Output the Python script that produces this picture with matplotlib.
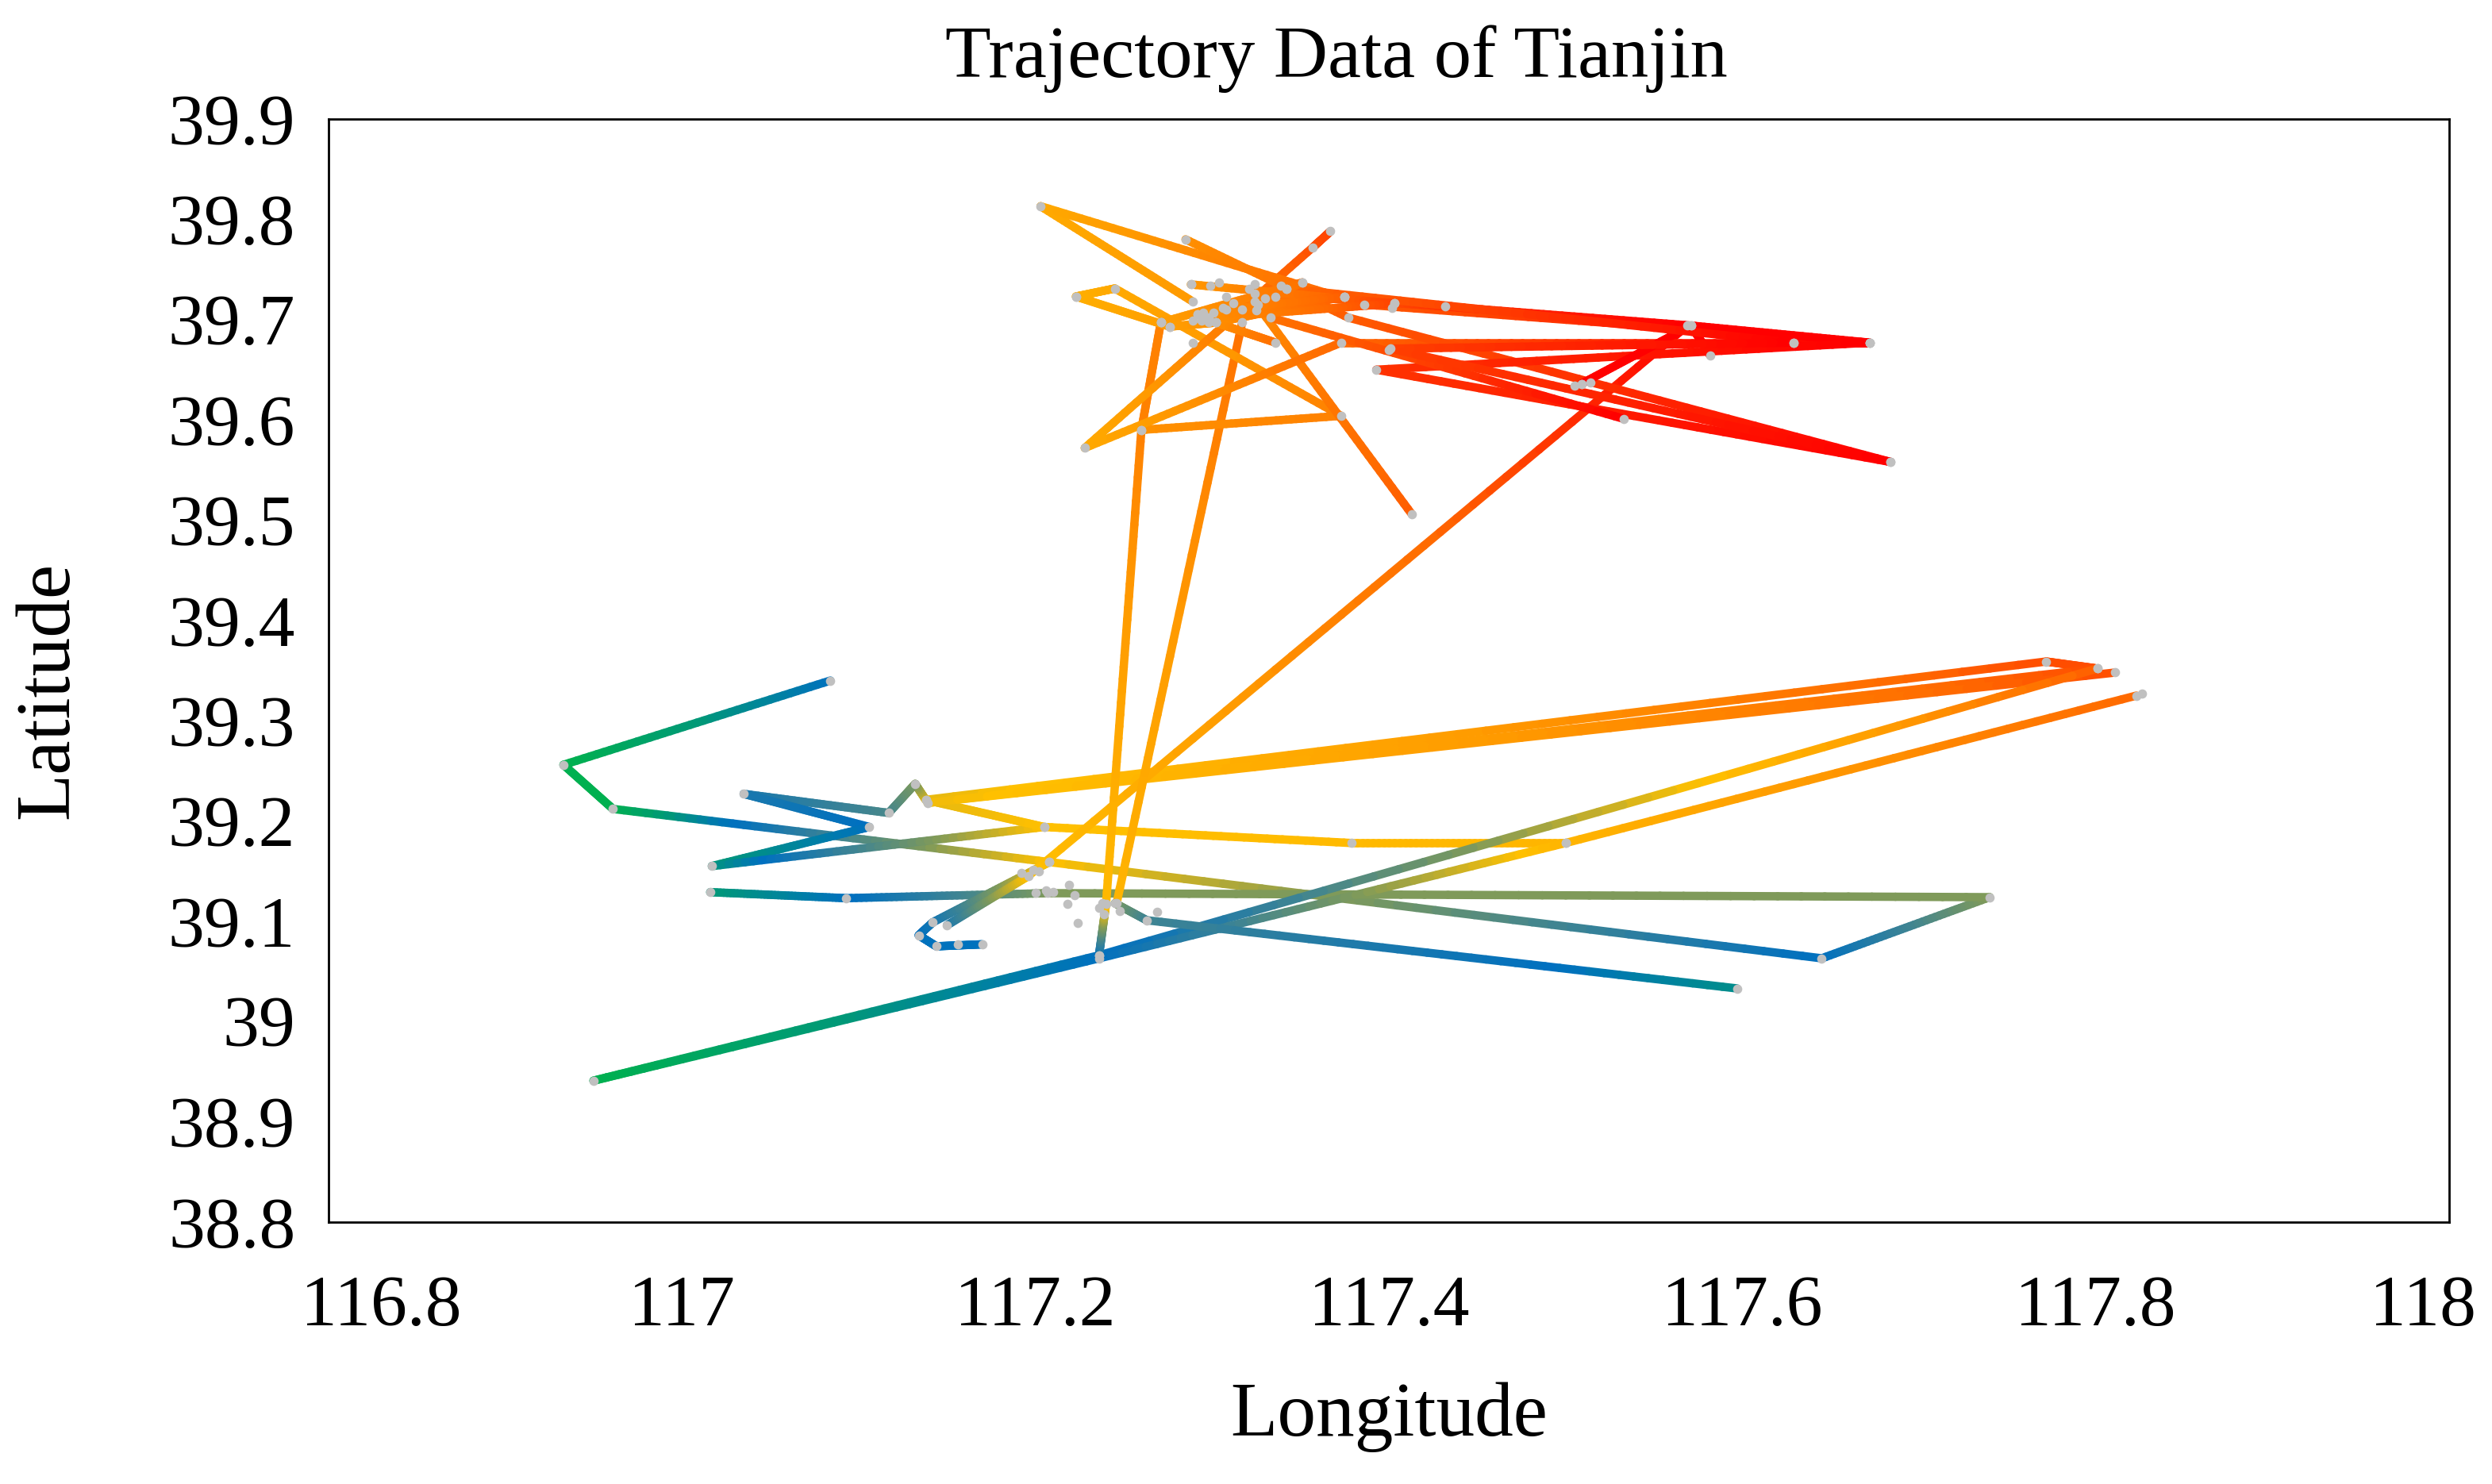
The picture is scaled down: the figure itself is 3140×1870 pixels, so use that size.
import numpy as np
import matplotlib.pyplot as plt
from matplotlib.collections import LineCollection
from matplotlib.colors import LinearSegmentedColormap
from matplotlib.ticker import FuncFormatter
from matplotlib.transforms import ScaledTranslation

plt.rcParams['font.family'] = ['Liberation Serif', 'DejaVu Serif']

# --- trajectory data (lon, lat, colour position along the time ramp) ---
trip1_lon = [117.084, 116.933, 116.961, 117.208, 117.645, 117.740, 117.207, 117.093, 117.016]
trip1_lat = [39.340, 39.256, 39.212, 39.159, 39.063, 39.124, 39.128, 39.123, 39.129]
trip1_c = [0.16, 0.0, 0.0, 0.58, 0.16, 0.42, 0.42, 0.16, 0.08]

trip2_lon = [117.138, 117.132, 117.117, 117.035, 117.106, 117.017, 117.205, 117.379, 117.500, 117.823]
trip2_lat = [39.221, 39.237, 39.208, 39.227, 39.194, 39.155, 39.194, 39.178, 39.178, 39.325]
trip2_c = [0.55, 0.42, 0.32, 0.22, 0.16, 0.08, 0.58, 0.60, 0.62, 0.84]

trip3_lon = [117.205, 117.138, 117.772, 117.801, 117.139, 117.811]
trip3_lat = [39.194, 39.221, 39.359, 39.352, 39.218, 39.348]
trip3_c = [0.58, 0.55, 0.88, 0.88, 0.56, 0.88]

trip4_lon = [117.801, 117.236, 116.950, 117.236, 117.500]
trip4_lat = [39.352, 39.066, 38.941, 39.063, 39.178]
trip4_c = [0.86, 0.16, 0.0, 0.16, 0.62]

trip5_lon = [117.170, 117.144, 117.134, 117.142, 117.208]
trip5_lat = [39.077, 39.075, 39.086, 39.099, 39.159]
trip5_c = [0.16, 0.16, 0.16, 0.20, 0.58]

trip6_lon = [117.150, 117.196, 117.569]
trip6_lat = [39.096, 39.145, 39.694]
trip6_c = [0.22, 0.58, 1.0]

trip7_lon = [117.236, 117.240, 117.260, 117.271]
trip7_lat = [39.066, 39.117, 39.590, 39.697]
trip7_c = [0.16, 0.60, 0.78, 0.78]

trip8_lon = [117.246, 117.317]
trip8_lat = [39.118, 39.697]
trip8_c = [0.62, 0.82]

trip9_lon = [117.245, 117.263, 117.597]
trip9_lat = [39.118, 39.101, 39.033]
trip9_c = [0.42, 0.30, 0.10]

trip10_lon = [117.223, 117.245, 117.373, 117.260]
trip10_lat = [39.723, 39.731, 39.604, 39.590]
trip10_c = [0.64, 0.66, 0.78, 0.74]

trip11_lon = [117.413, 117.324]
trip11_lat = [39.506, 39.718]
trip11_c = [0.86, 0.76]

trip12_lon = [117.367, 117.357, 117.228, 117.373, 117.629, 117.672]
trip12_lat = [39.788, 39.772, 39.572, 39.677, 39.677, 39.677]
trip12_c = [0.90, 0.88, 0.66, 0.84, 1.0, 1.0]

trip13_lon = [117.289, 117.203, 117.386, 117.672, 117.571, 117.582]
trip13_lat = [39.718, 39.813, 39.715, 39.677, 39.694, 39.664]
trip13_c = [0.72, 0.66, 0.86, 1.0, 1.0, 1.0]

trip14_lon = [117.285, 117.377, 117.684, 117.393, 117.672]
trip14_lat = [39.780, 39.702, 39.558, 39.650, 39.677]
trip14_c = [0.74, 0.86, 1.0, 0.92, 1.0]

trip15_lon = [117.333, 117.533]
trip15_lat = [39.702, 39.601]
trip15_c = [0.82, 1.0]

trip16_lon = [117.324, 117.432, 117.571, 117.509]
trip16_lat = [39.726, 39.713, 39.694, 39.636]
trip16_c = [0.80, 0.92, 1.0, 1.0]

trip17_lon = [117.342, 117.629, 117.401, 117.684]
trip17_lat = [39.731, 39.677, 39.671, 39.558]
trip17_c = [0.84, 1.0, 0.90, 1.0]

trip18_lon = [117.271, 117.351, 117.302, 117.375, 117.292]
trip18_lat = [39.697, 39.737, 39.697, 39.723, 39.705]
trip18_c = [0.70, 0.82, 0.74, 0.86, 0.72]

trip19_lon = [117.288, 117.403, 117.298, 117.375, 117.308]
trip19_lat = [39.735, 39.716, 39.702, 39.723, 39.710]
trip19_c = [0.72, 0.90, 0.74, 0.86, 0.76]

trip20_lon = [117.223, 117.276, 117.302, 117.336]
trip20_lat = [39.723, 39.693, 39.697, 39.677]
trip20_c = [0.64, 0.70, 0.74, 0.82]

# stay points recorded without movement
stop_lon = [117.288, 117.299, 117.304, 117.321, 117.324, 117.339, 117.342, 117.351, 117.375,
            117.403, 117.402, 117.336, 117.330, 117.326, 117.325, 117.317, 117.312, 117.308,
            117.306, 117.301, 117.295, 117.292, 117.289, 117.294, 117.298, 117.302, 117.271,
            117.276, 117.289, 117.400, 117.505, 117.509, 117.514,
            117.192, 117.199, 117.202, 117.200, 117.206, 117.210, 117.219, 117.222, 117.218,
            117.224, 117.238, 117.236, 117.239, 117.248, 117.269, 117.156, 117.826]
stop_lat = [39.735, 39.734, 39.737, 39.731, 39.735, 39.734, 39.731, 39.737, 39.723,
            39.716, 39.712, 39.723, 39.721, 39.715, 39.709, 39.710, 39.716, 39.723,
            39.712, 39.707, 39.707, 39.705, 39.699, 39.699, 39.697, 39.697, 39.697,
            39.693, 39.677, 39.670, 39.634, 39.636, 39.637,
            39.148, 39.151, 39.150, 39.128, 39.131, 39.129, 39.136, 39.126, 39.117,
            39.098, 39.118, 39.113, 39.107, 39.110, 39.109, 39.077, 39.327]

x_ticks = [116.8, 117.0, 117.2, 117.4, 117.6, 117.8, 118.0]
y_ticks = [38.8, 38.9, 39.0, 39.1, 39.2, 39.3, 39.4, 39.5, 39.6, 39.7, 39.8, 39.9]

trips = [
    (trip1_lon, trip1_lat, trip1_c), (trip2_lon, trip2_lat, trip2_c),
    (trip3_lon, trip3_lat, trip3_c), (trip4_lon, trip4_lat, trip4_c),
    (trip5_lon, trip5_lat, trip5_c), (trip6_lon, trip6_lat, trip6_c),
    (trip7_lon, trip7_lat, trip7_c), (trip8_lon, trip8_lat, trip8_c),
    (trip9_lon, trip9_lat, trip9_c), (trip10_lon, trip10_lat, trip10_c),
    (trip11_lon, trip11_lat, trip11_c), (trip12_lon, trip12_lat, trip12_c),
    (trip13_lon, trip13_lat, trip13_c), (trip14_lon, trip14_lat, trip14_c),
    (trip15_lon, trip15_lat, trip15_c), (trip16_lon, trip16_lat, trip16_c),
    (trip17_lon, trip17_lat, trip17_c), (trip18_lon, trip18_lat, trip18_c),
    (trip19_lon, trip19_lat, trip19_c), (trip20_lon, trip20_lat, trip20_c),
]

cmap = LinearSegmentedColormap.from_list('traj', [
    (0.00, '#00B050'), (0.08, '#00977A'), (0.16, '#0070C0'), (0.30, '#3F8492'),
    (0.42, '#7F9A5A'), (0.58, '#FFC000'), (0.72, '#FF9900'), (0.84, '#FF6A00'),
    (0.92, '#FF3300'), (1.00, '#FF0000')])


def draw_trip(ax, lon, lat, c, steps=40):
    # each leg is split only for rendering, so the colour can fade along it
    t = np.linspace(0, 1, steps + 1)
    tm = (t[:-1] + t[1:]) / 2
    for i in range(len(lon) - 1):
        xs = lon[i] + (lon[i + 1] - lon[i]) * t
        ys = lat[i] + (lat[i + 1] - lat[i]) * t
        pts = np.column_stack([xs, ys])
        segs = np.stack([pts[:-1], pts[1:]], axis=1)
        cols = cmap(c[i] + (c[i + 1] - c[i]) * tm)
        ax.add_collection(LineCollection(segs, colors=cols, linewidths=3.8,
                                         capstyle='round', zorder=2))


fig = plt.figure(figsize=(15.7, 9.35), dpi=200)
ax = fig.add_axes([0.1318, 0.1765, 0.851, 0.7433])

for lon, lat, c in trips:
    draw_trip(ax, lon, lat, c)

for lon, lat, c in trips:
    ax.plot(lon, lat, 'o', color='#C0C0C0', ms=4.2, mec='none', zorder=4)
ax.plot(stop_lon, stop_lat, 'o', color='#C0C0C0', ms=4.2, mec='none', zorder=4)

ax.set_xlim(116.8, 118.0)
ax.set_ylim(38.8, 39.9)
ax.set_xticks(x_ticks)
ax.set_yticks(y_ticks)
fmt = FuncFormatter(lambda v, p: f'{round(v, 3):g}')
ax.xaxis.set_major_formatter(fmt)
ax.yaxis.set_major_formatter(fmt)
ax.tick_params(axis='both', length=0, labelsize=33)
ax.tick_params(axis='x', pad=24)
ax.tick_params(axis='y', pad=15)
for s in ax.spines.values():
    s.set_linewidth(1.0)
    s.set_color('black')

# edge labels sit inside the axis ends, as in the source chart
xt = ax.xaxis.get_major_ticks()
xt[0].label1.set_transform(xt[0].label1.get_transform()
                           + ScaledTranslation(24 / 72, 0, fig.dpi_scale_trans))
xt[-1].label1.set_transform(xt[-1].label1.get_transform()
                            + ScaledTranslation(-12 / 72, 0, fig.dpi_scale_trans))

fig.text(1684 / 3140, 1 - 74 / 1870, 'Trajectory Data of Tianjin', fontsize=34,
         ha='center', va='center')
fig.text(1750 / 3140, 1 - 1786 / 1870, 'Longitude', fontsize=35, ha='center', va='center')
fig.text(62 / 3140, 1 - 870 / 1870, 'Latitude', fontsize=35, ha='center', va='center',
         rotation=90)

fig.savefig('out.png', dpi=200)
